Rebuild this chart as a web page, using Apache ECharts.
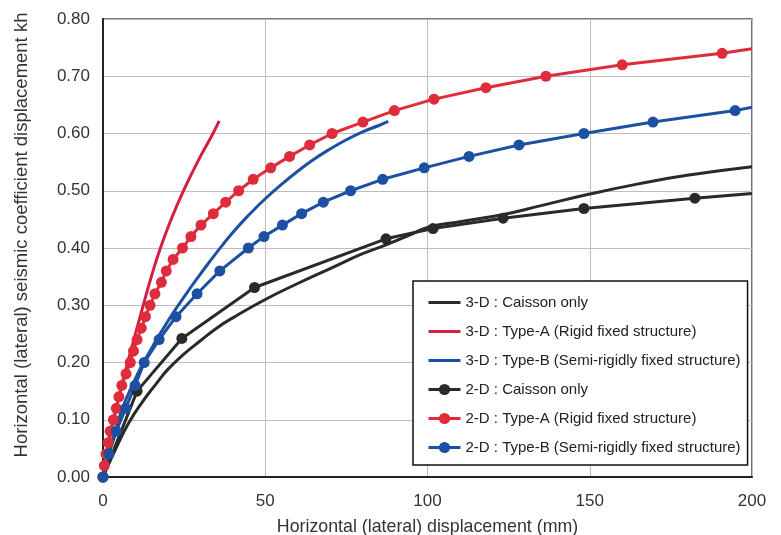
<!DOCTYPE html>
<html>
<head>
<meta charset="utf-8">
<script src="https://cdn.jsdelivr.net/npm/echarts@6/dist/echarts.min.js"></script>
<style>html,body{margin:0;padding:0;background:#fff}#c{width:781px;height:535px}</style>
</head>
<body>
<div id="c"></div>
<script>
// ---- names ----
const seriesNames = [
  '3-D : Caisson only',
  '3-D : Type-A (Rigid fixed structure)',
  '3-D : Type-B (Semi-rigidly fixed structure)',
  '2-D : Caisson only',
  '2-D : Type-A (Rigid fixed structure)',
  '2-D : Type-B (Semi-rigidly fixed structure)'
];
const xAxisTitle = 'Horizontal (lateral) displacement (mm)';
const yAxisTitle = 'Horizontal (lateral) seismic coefficient displacement kh';

// ---- data: [displacement mm, kh] ----
const caisson3D = [[0,0],[4,0.05],[8,0.095],[12,0.13],[16,0.16],[20,0.188],[25,0.215],[30,0.238],[35,0.26],[40,0.278],[50,0.31],[60,0.338],[70,0.364],[80,0.39],[87,0.405],[95,0.424],[100,0.436],[110,0.446],[123,0.458],[135,0.474],[149,0.493],[165,0.512],[180,0.527],[200,0.542]];
const typeA3D = [[0,0],[1.5,0.05],[3.3,0.10],[5.3,0.15],[7.6,0.20],[10,0.25],[12.4,0.30],[14.9,0.35],[17.7,0.40],[21.0,0.45],[24.8,0.50],[29.1,0.55],[33.9,0.60],[35.8,0.622]];
const typeB3D = [[0,0],[2,0.045],[4,0.085],[6,0.12],[9,0.16],[12,0.195],[15,0.225],[18,0.254],[22.5,0.294],[27,0.331],[31,0.362],[35,0.392],[40,0.427],[45,0.458],[50,0.486],[55,0.511],[60,0.534],[65,0.555],[70,0.573],[75,0.589],[80,0.603],[85,0.614],[87.9,0.621]];
const caisson2D = [[0,0],[10.5,0.15],[24.3,0.242],[46.7,0.331],[87.2,0.416],[101.7,0.434],[123.3,0.452],[148.2,0.469],[182.4,0.487],[200,0.495]];
const typeA2D = [[0,0],[0.4,0.02],[0.9,0.04],[1.6,0.06],[2.2,0.08],[3.2,0.10],[4.1,0.12],[4.9,0.14],[5.8,0.16],[7.1,0.18],[8.4,0.20],[9.4,0.22],[10.5,0.24],[11.8,0.26],[13.1,0.28],[14.5,0.30],[16.0,0.32],[18.0,0.34],[19.5,0.36],[21.6,0.38],[24.5,0.40],[27.1,0.42],[30.2,0.44],[34.0,0.46],[37.8,0.48],[41.8,0.50],[46.3,0.52],[51.7,0.54],[57.5,0.56],[63.7,0.58],[70.6,0.60],[80.1,0.62],[89.8,0.64],[102,0.66],[118,0.68],[136.5,0.70],[160,0.72],[190.8,0.74],[200,0.748]];
const typeB2D = [[0,0],[1.8,0.04],[4.1,0.08],[7.0,0.12],[9.9,0.16],[12.7,0.20],[17.3,0.24],[22.5,0.28],[29,0.32],[36,0.36],[44.8,0.40],[49.6,0.42],[55.3,0.44],[61.2,0.46],[67.9,0.48],[76.3,0.50],[86.2,0.52],[99,0.54],[112.8,0.56],[128.2,0.58],[148.2,0.60],[169.5,0.62],[194.8,0.64],[200,0.646]];

const BLACK = '#2a2a2a', RED = '#de2c3c', RED3 = '#d42040', BLUE = '#1c50a3';
const linePath = 'path://M0,0 L32,0 L32,3 L0,3 Z';
const FONT = 'Liberation Sans, Arial, sans-serif';

function curve(name, data, color) {
  return {
    name, type: 'line', data, smooth: 0.5, symbol: 'none',
    lineStyle: { color, width: 3 }, itemStyle: { color, borderWidth: 0 }, z: 2
  };
}
function dotted(name, data, color) {
  const last = data.length - 1;
  return {
    name, type: 'line', data, smooth: false, symbol: 'circle',
    symbolSize: (v, p) => (p.dataIndex === last ? 0 : 11),
    lineStyle: { color, width: 3 }, itemStyle: { color, borderWidth: 0 }, z: 3
  };
}

const chart = echarts.init(document.getElementById('c'), null, { renderer: 'canvas' });
chart.setOption({
  animation: false,
  backgroundColor: '#fff',
  grid: { left: 103, top: 19, right: 29, bottom: 58, outerBoundsMode: 'none', containLabel: false, show: true, borderColor: '#444', borderWidth: 1.5, backgroundColor: 'transparent' },
  xAxis: {
    type: 'value', min: 0, max: 200, interval: 50,
    name: xAxisTitle, nameLocation: 'middle', nameGap: 41,
    nameTextStyle: { fontSize: 17.8, color: '#333', fontFamily: FONT },
    axisLine: { show: true, onZero: false, lineStyle: { color: '#222', width: 2 } },
    axisTick: { show: false },
    axisLabel: { fontSize: 17, color: '#333', fontFamily: FONT, margin: 16 },
    splitLine: { show: true, lineStyle: { color: '#bdbdbd', width: 1 } }
  },
  yAxis: {
    type: 'value', min: 0, max: 0.8, interval: 0.1,
    name: yAxisTitle, nameLocation: 'middle', nameGap: 72, nameRotate: 90,
    nameTextStyle: { fontSize: 18.5, color: '#333', fontFamily: FONT, padding: [0, 0, 0, 26] },
    axisLine: { show: true, onZero: false, lineStyle: { color: '#222', width: 2 } },
    axisTick: { show: false },
    axisLabel: { fontSize: 17, color: '#333', fontFamily: FONT, margin: 13, formatter: v => v.toFixed(2) },
    splitLine: { show: true, lineStyle: { color: '#bdbdbd', width: 1 } }
  },
  legend: {
    orient: 'vertical', left: 413, top: 281,
    padding: [14, 7, 10, 14], itemWidth: 32, itemHeight: 14, itemGap: 14,
    backgroundColor: '#fff', borderColor: '#111', borderWidth: 1.5,
    lineStyle: { width: 3 },
    textStyle: { fontSize: 15, color: '#222', fontFamily: FONT, lineHeight: 15 },
    data: [
      { name: seriesNames[0], icon: linePath },
      { name: seriesNames[1], icon: linePath },
      { name: seriesNames[2], icon: linePath },
      { name: seriesNames[3] },
      { name: seriesNames[4] },
      { name: seriesNames[5] }
    ]
  },
  series: [
    curve(seriesNames[0], caisson3D, BLACK),
    curve(seriesNames[1], typeA3D, RED3),
    curve(seriesNames[2], typeB3D, BLUE),
    dotted(seriesNames[3], caisson2D, BLACK),
    dotted(seriesNames[4], typeA2D, RED),
    dotted(seriesNames[5], typeB2D, BLUE)
  ]
});
</script>
</body>
</html>
